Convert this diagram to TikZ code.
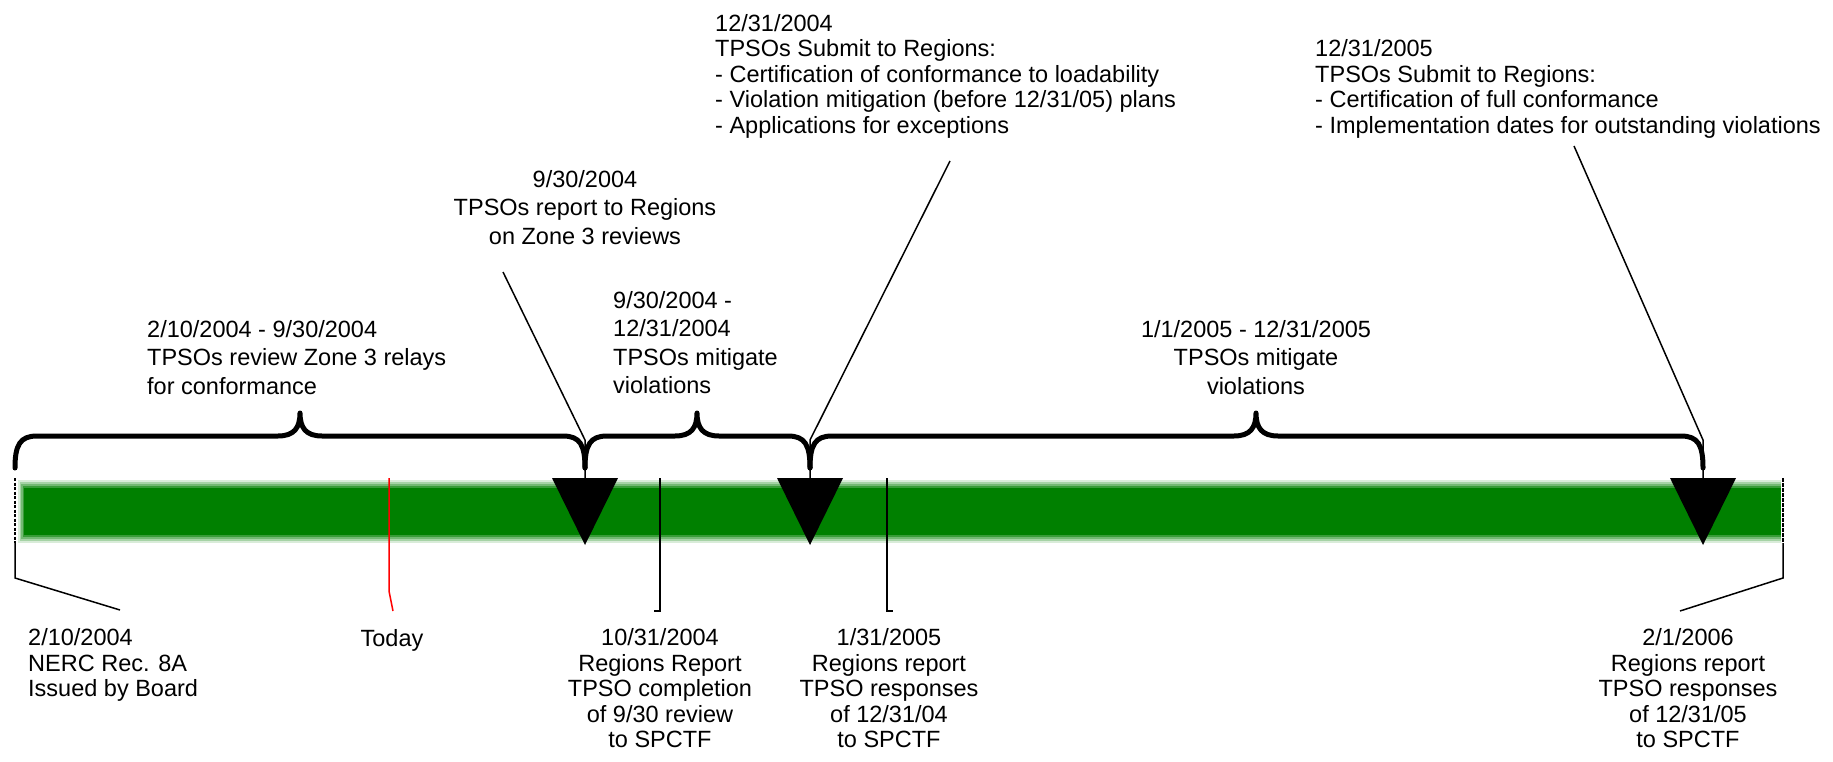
\documentclass[tikz,border=0pt]{standalone}
\usepackage{fontspec}
\setmainfont{Liberation Sans}
\definecolor{barg}{RGB}{0,128,0}
\definecolor{redl}{RGB}{255,0,0}
\begin{document}
\begin{tikzpicture}[x=1pt,y=-1pt,
  txt/.style={font=\fontsize{23.5}{28.5}\selectfont, inner sep=0pt, execute at begin node=\strut},
  txtc/.style={font=\fontsize{23.5}{25.5}\selectfont, inner sep=0pt, execute at begin node=\strut},
  bracepath/.style={line width=5pt, line cap=round, line join=round},
  lead/.style={line width=1.5pt},
  tri/.style={fill=black}]
\useasboundingbox (0,0) rectangle (1833,762);

% ---- green bar with soft edges
\fill[barg!15] (18,480) rectangle (1781,543);
\fill[barg!35] (19.5,482) rectangle (1781,541);
\fill[barg!55] (21,484) rectangle (1781,539);
\fill[barg!78] (22.5,486) rectangle (1781,537);
\fill[barg] (24,488) rectangle (1781,535);

% ---- coordinates
\coordinate (j1) at (585,478);
\coordinate (j2) at (810,478);
\coordinate (j3) at (1703,478);

% ---- triangles
\fill[tri] (552,478) -- (618,478) -- (585,545) -- cycle;
\fill[tri] (777,478) -- (843,478) -- (810,545) -- cycle;
\fill[tri] (1670,478) -- (1736,478) -- (1703,545) -- cycle;

% ---- braces
\draw[bracepath] (15,468) .. controls (15,445) and (20,436) .. (37,436) -- (278,436)
   .. controls (294,436) and (300,428) .. (300,413) .. controls (300,428) and (306,436) .. (322,436)
   -- (563,436) .. controls (580,436) and (585,445) .. (585,468);
\draw[bracepath] (585,468) .. controls (585,445) and (590,436) .. (607,436) -- (675,436)
   .. controls (691,436) and (697,428) .. (697,413) .. controls (697,428) and (703,436) .. (719,436)
   -- (788,436) .. controls (805,436) and (810,445) .. (810,468);
\draw[bracepath] (810,468) .. controls (810,445) and (815,436) .. (832,436) -- (1234,436)
   .. controls (1250,436) and (1256,428) .. (1256,413) .. controls (1256,428) and (1262,436) .. (1278,436)
   -- (1681,436) .. controls (1698,436) and (1703,445) .. (1703,468);

% ---- top texts
\node[txt, anchor=north west, align=left] (t1) at (147,320)
  {2/10/2004 - 9/30/2004\\TPSOs review Zone 3 relays\\for conformance};
\node[txt, anchor=north, align=center] (t2) at (585,170)
  {9/30/2004\\TPSOs report to Regions\\on Zone 3 reviews};
\node[txt, anchor=north west, align=left] (t3) at (613,291)
  {9/30/2004 -\\12/31/2004\\TPSOs mitigate\\violations};
\node[txtc, anchor=north west, align=left] (t4) at (715,14)
  {12/31/2004\\TPSOs Submit to Regions:\\- Certification of conformance to loadability\\- Violation mitigation (before 12/31/05) plans\\- Applications for exceptions};
\node[txt, anchor=north, align=center] (t5) at (1256,320)
  {1/1/2005 - 12/31/2005\\TPSOs mitigate\\violations};
\node[txtc, anchor=north west, align=left] (t6) at (1315,39.5)
  {12/31/2005\\TPSOs Submit to Regions:\\- Certification of full conformance\\- Implementation dates for outstanding violations};

% ---- bottom texts
\node[txtc, anchor=north west, align=left] (b1) at (28,628.5)
  {2/10/2004\\NERC Rec. 8A\\Issued by Board};
\node[txtc, anchor=north, align=center] (b2) at (392,628.5) {Today};
\node[txtc, anchor=north, align=center] (b3) at (660,628.5)
  {10/31/2004\\Regions Report\\TPSO completion\\of 9/30 review\\to SPCTF};
\node[txtc, anchor=north, align=center] (b4) at (889,628.5)
  {1/31/2005\\Regions report\\TPSO responses\\of 12/31/04\\to SPCTF};
\node[txtc, anchor=north, align=center] (b5) at (1688,628.5)
  {2/1/2006\\Regions report\\TPSO responses\\of 12/31/05\\to SPCTF};

% ---- leader lines (top)
\coordinate (l2) at (503,272);
\coordinate (l4) at (950,161);
\coordinate (l6) at (1574,146);
\draw[lead] (l2) -- (585,440) -- (j1);
\draw[lead] (l4) -- (810,440) -- (j2);
\draw[lead] (l6) -- (1703,440) -- (j3);

% ---- leader lines (bottom)
\coordinate (e1) at (15,478);
\coordinate (e5) at (1783,478);
\draw[lead, dash pattern=on 3pt off 1.5pt] (e1) -- (15,543);
\draw[lead] (15,543) -- (15,578) -- (120,610);
\draw[lead, dash pattern=on 4pt off 1pt] (e5) -- (1783,543);
\draw[lead] (1783,543) -- (1783,578) -- (1680,611);
\coordinate (e3) at (660,478);
\draw[lead] (e3) -- (660,611) -- (654,611);
\coordinate (e4) at (887,478);
\draw[lead] (e4) -- (887,611) -- (893,611);
\coordinate (er) at (389,478);
\draw[lead, redl] (er) -- (389,591) -- (393,611);
\end{tikzpicture}
\end{document}
